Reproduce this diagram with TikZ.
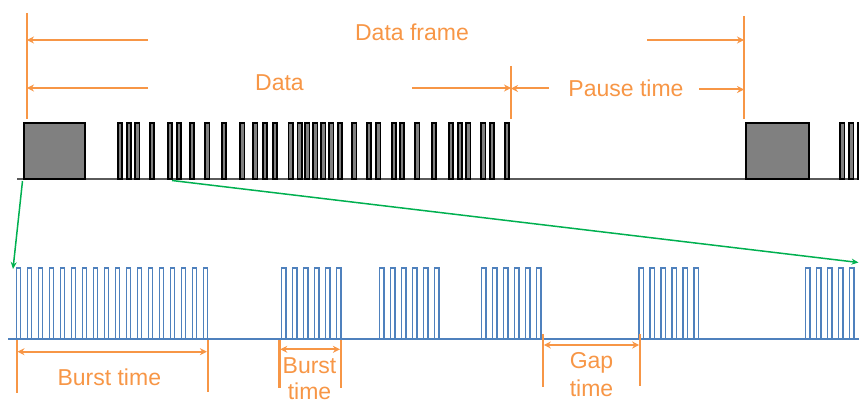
\documentclass[tikz,border=0pt]{standalone}
\usepackage{fontspec}
\setmainfont{Liberation Sans}
\usetikzlibrary{arrows.meta}
\definecolor{myorange}{RGB}{247,150,70}
\definecolor{myblue}{RGB}{79,129,189}
\definecolor{mygreen}{RGB}{0,176,80}
\definecolor{boxgray}{RGB}{128,128,128}
\definecolor{linegray}{RGB}{90,90,90}
\begin{document}
\begin{tikzpicture}[x=1pt,y=-1pt,
  dimline/.style={myorange, line width=2.2pt},
  dimarrow/.style={myorange, line width=2pt, -{Stealth[length=7pt,width=7pt]}},
  dimboth/.style={myorange, line width=2pt, {Stealth[length=7pt,width=7pt]}-{Stealth[length=7pt,width=7pt]}},
  lbl/.style={text=myorange, font=\fontsize{23}{27.5}\selectfont, inner sep=0pt, anchor=base},
  pulsebox/.style={draw=black, fill=boxgray, line width=1.8pt},
  topbase/.style={draw=linegray, line width=1.5pt},
  bluesig/.style={draw=myblue, line width=1.5pt, line join=miter},
  bluebase/.style={draw=myblue, line width=2.4pt},
  zoomarrow/.style={draw=mygreen, line width=1.5pt, -{Stealth[length=7pt,width=6pt]}}]
\clip (0,0) rectangle (859,401);
% ---------- top signal ----------
\draw[topbase] (17,179) -- (859,179);
\draw[pulsebox] (23.9,122.9) rectangle (85.1,179);
\draw[pulsebox] (746.2,122.9) rectangle (808.8,179);
\foreach \x in {116.7,125.7,134.3,149,166.7,176,189,204.3,220.7,239.3,252.3,262,271.7,287.5,296.5,304.3,312.3,320.3,328.3,336.7,351.3,366,375.3,391,399,414.3,431,448,456.7,465.3,480.3,489,503.7,839.3,848.3,856.7}
  \draw[pulsebox] (\x+0.9,122.9) rectangle (\x+5.1,179);
% ---------- top dimension lines ----------
\coordinate (l0t) at (27,13);    \coordinate (l0b) at (27,119);
\coordinate (l1t) at (511,66);   \coordinate (l1b) at (511,119);
\coordinate (l2t) at (744,16);   \coordinate (l2b) at (744,119);
\draw[dimline] (l0t) -- (l0b);
\draw[dimline] (l1t) -- (l1b);
\draw[dimline] (l2t) -- (l2b);
\coordinate (dfa) at (148,40);  \coordinate (dfae) at (27,40);
\coordinate (dfb) at (647,40);  \coordinate (dfbe) at (744,40);
\coordinate (da)  at (148,88);  \coordinate (dae)  at (27,88);
\coordinate (db)  at (412,88);  \coordinate (dbe)  at (511,88);
\coordinate (pa)  at (549,88.5);  \coordinate (pae)  at (511,88.5);
\coordinate (pb)  at (699,89.5);  \coordinate (pbe)  at (744,89.5);
\draw[dimarrow] (dfa) -- (dfae);
\draw[dimarrow] (dfb) -- (dfbe);
\draw[dimarrow] (da) -- (dae);
\draw[dimarrow] (db) -- (dbe);
\draw[dimarrow] (pa) -- (pae);
\draw[dimarrow] (pb) -- (pbe);
\node[lbl] (tdf) at (412,40.5) {Data frame};
\node[lbl] (tdata) at (279.5,90.5) {Data};
\node[lbl] (tpause) at (626,96.5) {Pause time};
% ---------- bottom signal ----------
\draw[bluebase] (8,339) -- (859,339);
\foreach \s/\n in {15.7/17,281/5,379/5,481/5,638.3/5,805/5}
  \foreach \i in {0,...,\n}
    \draw[bluesig] (\s+11*\i+0.7,339) |- (\s+11*\i+5,268) -- (\s+11*\i+5,339);
% ---------- zoom arrows ----------
\coordinate (z1s) at (22.5,181); \coordinate (z1e) at (13,269);
\coordinate (z2s) at (172,180.5); \coordinate (z2e) at (858.5,262.5);
\draw[zoomarrow] (z1s) -- (z1e);
\draw[zoomarrow] (z2s) -- (z2e);
% ---------- bottom dimension lines ----------
\draw[dimline] (16.7,340) -- (16.7,392.5);
\draw[dimline] (207.7,340) -- (207.7,392);
\draw[dimline] (279.5,340) -- (279.5,388);
\draw[dimline] (340.7,340) -- (340.7,388);
\draw[dimline] (543,334) -- (543,387);
\draw[dimline] (640,334) -- (640,386);
\coordinate (bt1a) at (17.5,351.7);  \coordinate (bt1b) at (206.9,351.7);
\coordinate (bt2a) at (280.3,349.3); \coordinate (bt2b) at (339.9,349.3);
\coordinate (gta)  at (543.8,345);   \coordinate (gtb)  at (639.2,345);
\draw[dimboth] (bt1a) -- (bt1b);
\draw[dimboth] (bt2a) -- (bt2b);
\draw[dimboth] (gta) -- (gtb);
\node[lbl] (tburst1) at (109.3,385) {Burst time};
\node[lbl] (tburst2) at (309.5,373.3) {Burst};
\node[lbl] (ttime2) at (309.5,399.3) {time};
\node[lbl] (tgap) at (591.5,368.5) {Gap};
\node[lbl] (ttime3) at (591.5,396.5) {time};
\end{tikzpicture}
\end{document}
